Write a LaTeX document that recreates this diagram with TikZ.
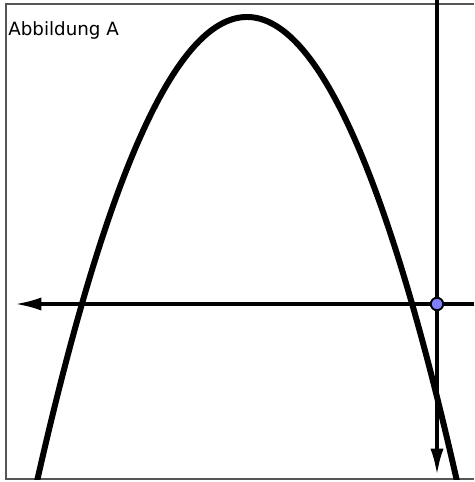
\documentclass[tikz,border=0pt]{standalone}
\usepackage{fontspec}
\setmainfont{DejaVu Sans}
\usetikzlibrary{arrows.meta}
\definecolor{ptfill}{HTML}{8080FF}
\definecolor{framegray}{HTML}{555555}
\tikzset{
  axisline/.style={line width=1.9pt, -{Latex[length=15pt,width=7.5pt]}},
  curve/.style={line width=3.4pt, line cap=butt},
  ptstyle/.style={circle, draw=black, fill=ptfill, line width=1pt, inner sep=0pt, minimum size=7pt},
  frame/.style={draw=framegray, line width=0.6pt},
  lbl/.style={anchor=base west, inner sep=0pt, font=\fontsize{10.4pt}{12pt}\selectfont}
}
\begin{document}
\begin{tikzpicture}[x=0.02cm, y=-0.02cm]
\useasboundingbox (0,0) rectangle (474,482);
\draw[frame] (474,4) -- (6,4) -- (6,479) -- (474,479);
\begin{scope}
\clip (6,4) rectangle (474,479);
\draw[curve] plot[domain=35:459, samples=200, smooth] (\x, {17 + 0.01053*(\x-247)*(\x-247)});
\end{scope}
\coordinate (top) at (437,0);
\coordinate (right) at (474,304);
\coordinate (leftend) at (15,304);
\coordinate (bottomend) at (437,475);
\node[ptstyle] (P) at (437,304) {};
\draw[axisline] (right) -- (leftend);
\draw[axisline] (top) -- (bottomend);
\node[ptstyle] at (P) {};
\node[lbl] (title) at (8,36) {Abbildung A};
\end{tikzpicture}
\end{document}
